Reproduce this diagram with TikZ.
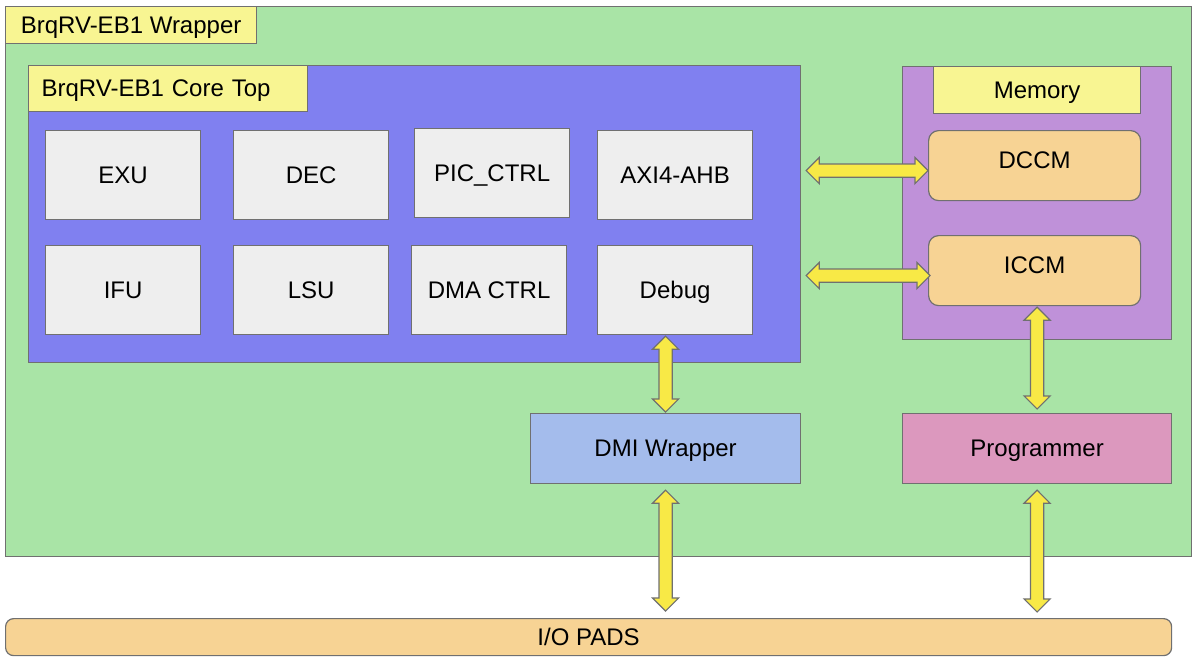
\documentclass[tikz,border=0pt]{standalone}
\usepackage{fontspec}
\setmainfont{Liberation Sans}
\usetikzlibrary{shapes.arrows,calc}

\definecolor{wrapgreen}{HTML}{A9E4A6}
\definecolor{tagyellow}{HTML}{F8F592}
\definecolor{coreblue}{HTML}{8080F0}
\definecolor{unitgray}{HTML}{EEEEEE}
\definecolor{mempurple}{HTML}{BF91D9}
\definecolor{ramorange}{HTML}{F7D394}
\definecolor{dmiblue}{HTML}{A4BCEC}
\definecolor{progpink}{HTML}{DC98BE}
\definecolor{arrowyellow}{HTML}{F8E946}
\definecolor{edgegray}{HTML}{707070}

\tikzset{
  box/.style={draw=edgegray, line width=0.6pt, anchor=north west, inner sep=0pt,
    text depth=0pt, font=\fontsize{12}{14}\selectfont},
  unit/.style={box, fill=unitgray, minimum width=77.5pt, minimum height=44.5pt},
  tag/.style={box, fill=tagyellow},
  ram/.style={box, fill=ramorange, rounded corners=5pt, minimum width=106pt, minimum height=35pt,
    text depth=5pt},
  bigarrow/.style={double arrow, draw=edgegray, fill=arrowyellow, line width=0.6pt,
    inner xsep=0pt, inner ysep=3pt, minimum width=0pt, double arrow head extend=3.25pt},
}

% fat two-headed arrow between two points
\newcommand\linkarrow[2]{%
  \path let \p1=($#2-#1$), \n1={veclen(\x1,\y1)} in
    #1 -- #2 node[bigarrow, midway, sloped, minimum height=\n1] {};}

\begin{document}
\begin{tikzpicture}[x=0.5pt, y=-0.5pt]
  \useasboundingbox (0,0) rectangle (1203,666);

  % wrapper
  \node[box, fill=wrapgreen, minimum width=593pt, minimum height=275pt] (wrapper) at (5,6) {};
  \node[tag, minimum width=125.5pt, minimum height=18.5pt] (wraplabel) at (5,6) {BrqRV-EB1 Wrapper};

  % core top
  \node[box, fill=coreblue, minimum width=386pt, minimum height=148.5pt] (core) at (28,65) {};
  \node[tag, minimum height=23pt, text width=126.5pt, inner xsep=6.5pt, align=left] (corelabel) at (28,65) {BrqRV-EB1 Core Top};

  \node[unit] (exu) at (45,130) {EXU};
  \node[unit] (dec) at (233,130) {DEC};
  \node[unit] (picctrl) at (414,128) {PIC\_CTRL};
  \node[unit] (axi) at (597,130) {AXI4-AHB};
  \node[unit] (ifu) at (45,245) {IFU};
  \node[unit] (lsu) at (233,245) {LSU};
  \node[unit] (dmactrl) at (411,245) {DMA CTRL};
  \node[unit] (debug) at (597,245) {Debug};

  % memory
  \node[box, fill=mempurple, minimum width=134.5pt, minimum height=136.5pt] (memory) at (902,66) {};
  \node[tag, minimum width=103.5pt, minimum height=23.5pt] (memlabel) at (933,66) {Memory};
  \node[ram] (dccm) at (928,130) {DCCM};
  \node[ram] (iccm) at (928,235) {ICCM};

  \node[box, fill=dmiblue, minimum width=135pt, minimum height=35pt] (dmi) at (530,413) {DMI Wrapper};
  \node[box, fill=progpink, minimum width=134.5pt, minimum height=35pt] (prog) at (902,413) {Programmer};

  \node[box, fill=ramorange, rounded corners=4pt, minimum width=583pt, minimum height=18.5pt] (pads) at (5,618) {I/O PADS};

  % links
  \linkarrow{($(core.east |- dccm.west)+(5,5)$)}{($(dccm.west)+(0,5)$)}
  \linkarrow{($(core.east |- iccm.west)+(5,5)$)}{($(iccm.west)+(2,5)$)}
  \linkarrow{($(dmi.north |- debug.south)+(0,1)$)}{($(dmi.north)+(0,-1)$)}
  \linkarrow{($(prog.north |- iccm.south)+(0,1)$)}{($(prog.north)+(0,-4)$)}
  \linkarrow{($(dmi.south)+(0,6)$)}{($(dmi.south |- pads.north)+(0,-7)$)}
  \linkarrow{($(prog.south)+(0,6)$)}{($(prog.south |- pads.north)+(0,-6)$)}
\end{tikzpicture}
\end{document}
